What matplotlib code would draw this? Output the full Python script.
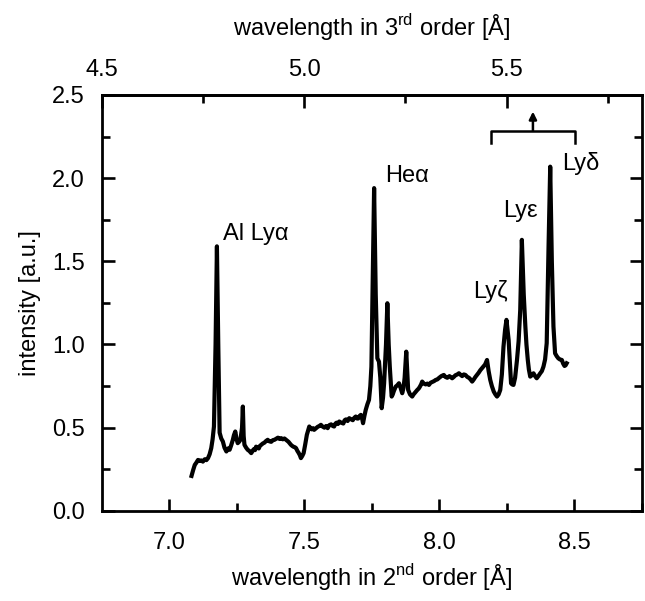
import matplotlib
matplotlib.use("Agg")
import matplotlib.pyplot as plt
from matplotlib.ticker import FixedLocator

plt.rcParams['font.family'] = ['Liberation Sans', 'DejaVu Sans']
plt.rcParams['mathtext.fontset'] = 'custom'
plt.rcParams['mathtext.rm'] = 'Liberation Sans'

# --- spectrum (2nd order wavelength, intensity) ---
wl2 = [7.083, 7.089, 7.095, 7.101, 7.107, 7.113, 7.119, 7.125, 7.132, 7.138,
       7.144, 7.150, 7.156, 7.161, 7.166, 7.172, 7.177, 7.182, 7.187, 7.193,
       7.199, 7.205, 7.212, 7.218, 7.224, 7.230, 7.236, 7.240, 7.245, 7.250,
       7.254, 7.259, 7.264, 7.270, 7.273, 7.276, 7.279, 7.285, 7.291, 7.297,
       7.304, 7.309, 7.313, 7.318, 7.322, 7.327, 7.332, 7.336, 7.341, 7.347,
       7.353, 7.359, 7.365, 7.371, 7.378, 7.384, 7.39, 7.396, 7.403, 7.409,
       7.415, 7.421, 7.427, 7.433, 7.438, 7.442, 7.447, 7.451, 7.456, 7.461,
       7.466, 7.47, 7.475, 7.479, 7.484, 7.488, 7.493, 7.498, 7.504, 7.51,
       7.514, 7.519, 7.524, 7.528, 7.533, 7.537, 7.543, 7.55, 7.556, 7.562,
       7.568, 7.575, 7.581, 7.587, 7.593, 7.6, 7.606, 7.611, 7.616, 7.62,
       7.625, 7.63, 7.637, 7.645, 7.65, 7.655, 7.661, 7.667, 7.674, 7.68,
       7.686, 7.691, 7.696, 7.70, 7.705, 7.71, 7.714, 7.718, 7.723, 7.728,
       7.734, 7.74, 7.745, 7.749, 7.754, 7.759, 7.765, 7.771, 7.777, 7.782,
       7.787, 7.792, 7.796, 7.803, 7.808, 7.813, 7.817, 7.824, 7.828, 7.832,
       7.836, 7.839, 7.845, 7.851, 7.857, 7.863, 7.868, 7.872, 7.878, 7.885,
       7.892, 7.9, 7.905, 7.91, 7.915, 7.919, 7.924, 7.928, 7.933, 7.937,
       7.943, 7.95, 7.956, 7.962, 7.968, 7.975, 7.981, 7.987, 7.993, 8.0,
       8.008, 8.017, 8.023, 8.03, 8.038, 8.048, 8.054, 8.06, 8.067, 8.073,
       8.079, 8.085, 8.091, 8.097, 8.104, 8.11, 8.116, 8.122, 8.128, 8.134,
       8.14, 8.146, 8.152, 8.158, 8.164, 8.17, 8.177, 8.183, 8.189, 8.195,
       8.202, 8.208, 8.214, 8.22, 8.226, 8.232, 8.238, 8.244, 8.249, 8.253,
       8.257, 8.262, 8.266, 8.270, 8.275, 8.281, 8.288, 8.294, 8.3, 8.306,
       8.313, 8.319, 8.323, 8.328, 8.332, 8.337, 8.343, 8.349, 8.355, 8.361,
       8.367, 8.374, 8.380, 8.386, 8.392, 8.398, 8.405, 8.411, 8.417, 8.423,
       8.429, 8.435, 8.441, 8.447, 8.454, 8.459, 8.464, 8.468, 8.472]
intensity = [0.21, 0.245, 0.276, 0.29, 0.306, 0.30, 0.303, 0.296, 0.31, 0.305,
             0.317, 0.34, 0.377, 0.43, 0.507, 1.0, 1.59, 1.0, 0.47, 0.435,
             0.417, 0.38, 0.357, 0.375, 0.367, 0.395, 0.427, 0.455, 0.477, 0.43,
             0.407, 0.415, 0.427, 0.50, 0.627, 0.45, 0.397, 0.38, 0.367, 0.36,
             0.347, 0.36, 0.37, 0.365, 0.386, 0.38, 0.375, 0.39, 0.397, 0.405,
             0.41, 0.42, 0.427, 0.418, 0.415, 0.425, 0.427, 0.433, 0.44, 0.432,
             0.437, 0.43, 0.435, 0.427, 0.42, 0.415, 0.405, 0.397, 0.39, 0.385,
             0.382, 0.377, 0.36, 0.35, 0.335, 0.317, 0.33, 0.347, 0.40, 0.457,
             0.48, 0.507, 0.495, 0.49, 0.497, 0.487, 0.495, 0.505, 0.51, 0.517,
             0.507, 0.50, 0.51, 0.497, 0.515, 0.52, 0.51, 0.507, 0.525, 0.53,
             0.522, 0.537, 0.53, 0.525, 0.545, 0.55, 0.54, 0.557, 0.55, 0.545,
             0.56, 0.567, 0.555, 0.555, 0.57, 0.577, 0.56, 0.527, 0.57, 0.607,
             0.64, 0.667, 0.75, 0.867, 1.4, 1.94, 1.3, 0.917, 0.897, 0.80,
             0.617, 0.68, 0.767, 1.0, 1.248, 1.0, 0.867, 0.687, 0.70, 0.72,
             0.735, 0.747, 0.755, 0.767, 0.74, 0.707, 0.74, 0.80, 0.957, 0.727,
             0.70, 0.687, 0.70, 0.71, 0.72, 0.727, 0.735, 0.745, 0.76, 0.777,
             0.765, 0.76, 0.765, 0.757, 0.77, 0.775, 0.78, 0.787, 0.79, 0.80,
             0.81, 0.817, 0.805, 0.80, 0.81, 0.797, 0.805, 0.815, 0.82, 0.827,
             0.818, 0.81, 0.82, 0.817, 0.805, 0.80, 0.79, 0.777, 0.79, 0.805,
             0.817, 0.83, 0.845, 0.857, 0.87, 0.88, 0.907, 0.84, 0.787, 0.75,
             0.717, 0.70, 0.687, 0.70, 0.727, 0.82, 0.987, 1.09, 1.148, 1.09,
             1.028, 0.88, 0.767, 0.76, 0.757, 0.80, 0.907, 1.02, 1.208, 1.629,
             1.3, 1.108, 1.0, 0.907, 0.85, 0.807, 0.815, 0.827, 0.81, 0.797,
             0.81, 0.827, 0.84, 0.867, 0.91, 1.008, 1.6, 2.069, 1.5, 1.108,
             0.947, 0.93, 0.917, 0.91, 0.907, 0.885, 0.871, 0.875, 0.887]

# line labels: (text, x, y)
line_labels = [("Al Ly\u03b1", 7.20, 1.665),
               ("He\u03b1", 7.80, 2.01),
               ("Ly\u03b6", 8.125, 1.32),
               ("Ly\u03b5", 8.235, 1.80),
               ("Ly\u03b4", 8.455, 2.09)]

xticks2 = [7.0, 7.5, 8.0, 8.5]
xminor2 = [7.25, 7.75, 8.25, 8.75]
xticks3 = [4.5, 5.0, 5.5]
xminor3 = [4.75, 5.25, 5.75]
yticks = [0.0, 0.5, 1.0, 1.5, 2.0, 2.5]
yminor = [0.25, 0.75, 1.25, 1.75, 2.25]

FS = 17

fig = plt.figure(figsize=(6.45, 6.01), dpi=100)
ax = fig.add_axes([0.1575, 0.15, 0.8375, 0.692])

ax.plot(wl2, intensity, color='black', lw=3.0, solid_joinstyle='round')

ax.set_xlim(6.75, 8.75)
ax.set_ylim(0, 2.5)

ax.xaxis.set_major_locator(FixedLocator(xticks2))
ax.xaxis.set_minor_locator(FixedLocator(xminor2))
ax.yaxis.set_major_locator(FixedLocator(yticks))
ax.yaxis.set_minor_locator(FixedLocator(yminor))
ax.set_xticklabels([f"{v:.1f}" for v in xticks2])
ax.set_yticklabels([f"{v:.1f}" for v in yticks])

ax.tick_params(which='both', direction='in', width=1.9, labelsize=FS,
               top=False, right=True)
ax.tick_params(which='major', length=9, pad=12)
ax.tick_params(axis='x', which='major', pad=15)
ax.tick_params(which='minor', length=5.5)
for sp in ax.spines.values():
    sp.set_linewidth(2.0)

# upper axis: 3rd order wavelength
sec = ax.secondary_xaxis('top', functions=(lambda x: x * 2.0 / 3.0,
                                           lambda x: x * 1.5))
sec.xaxis.set_major_locator(FixedLocator(xticks3))
sec.xaxis.set_minor_locator(FixedLocator(xminor3))
sec.set_xticklabels([f"{v:.1f}" for v in xticks3])
sec.tick_params(which='both', direction='in', width=1.9, labelsize=FS)
sec.tick_params(which='major', length=9, pad=10)
sec.tick_params(which='minor', length=5.5)
sec.spines['top'].set_linewidth(2.0)

ax.set_xlabel(r"wavelength in 2$^{\mathrm{nd}}$ order [Å]", fontsize=FS, labelpad=6)
sec.set_xlabel(r"wavelength in 3$^{\mathrm{rd}}$ order [Å]", fontsize=FS, labelpad=17)
ax.set_ylabel("intensity [a.u.]", fontsize=FS, labelpad=8)

for txt, x, y in line_labels:
    ax.text(x, y, txt, fontsize=FS, ha='left', va='center')

# bracket marking lines seen in 3rd order
ax.plot([8.193, 8.193, 8.503, 8.503], [2.21, 2.285, 2.285, 2.21],
        color='black', lw=1.8)
ax.annotate("", xy=(8.347, 2.40), xytext=(8.347, 2.285),
            arrowprops=dict(arrowstyle='-|>', color='black', lw=1.8,
                            mutation_scale=11, shrinkA=0, shrinkB=0))

fig.savefig("out.png", dpi=100)
